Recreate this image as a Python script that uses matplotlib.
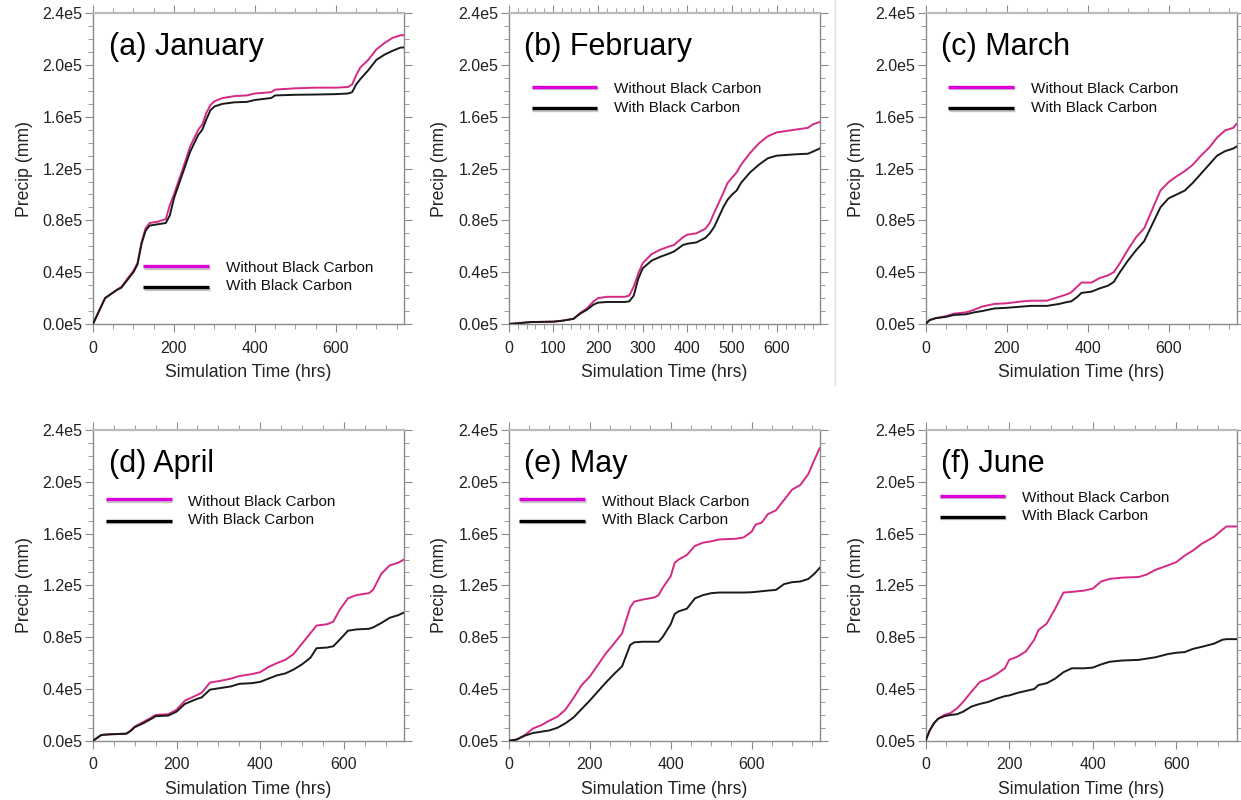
import matplotlib
matplotlib.use("Agg")
import matplotlib.pyplot as plt
import matplotlib.patheffects as pe
from matplotlib.ticker import MultipleLocator, FixedLocator, FixedFormatter

plt.rcParams['font.family'] = ['Liberation Sans', 'DejaVu Sans']

# Cumulative precip in units of 1e5 mm
jan_hrs = [0, 30, 60, 70, 90, 100, 110, 120, 130, 140, 160, 180, 190, 200, 220, 240, 260, 270, 280, 290,
           300, 320, 350, 380, 400, 440, 450, 500, 550, 600, 630, 640, 650, 660, 680, 700, 720, 740, 760, 768]
jan_without = [0, 0.20, 0.265, 0.286, 0.37, 0.41, 0.47, 0.63, 0.74, 0.78, 0.79, 0.81, 0.92, 1.0, 1.18, 1.37, 1.50, 1.54, 1.63, 1.69,
               1.72, 1.745, 1.76, 1.765, 1.78, 1.79, 1.81, 1.82, 1.825, 1.825, 1.83, 1.85, 1.92, 1.98, 2.04, 2.12, 2.17, 2.21, 2.23, 2.23]
jan_with = [0, 0.20, 0.265, 0.28, 0.36, 0.40, 0.46, 0.62, 0.72, 0.76, 0.77, 0.78, 0.84, 0.97, 1.15, 1.33, 1.46, 1.50, 1.58, 1.65,
            1.68, 1.70, 1.712, 1.715, 1.73, 1.745, 1.765, 1.77, 1.772, 1.775, 1.78, 1.79, 1.85, 1.89, 1.96, 2.04, 2.08, 2.11, 2.135, 2.135]

feb_hrs = [0, 50, 100, 120, 145, 160, 175, 190, 200, 220, 260, 270, 280, 290, 300, 320, 340, 360, 370, 380,
           390, 400, 420, 440, 450, 460, 480, 490, 500, 510, 520, 540, 560, 580, 600, 620, 640, 670, 680, 696]
feb_without = [0, 0.015, 0.018, 0.026, 0.04, 0.085, 0.12, 0.175, 0.20, 0.21, 0.21, 0.22, 0.29, 0.39, 0.47, 0.54, 0.575, 0.60, 0.61, 0.64,
               0.67, 0.69, 0.70, 0.735, 0.78, 0.86, 1.01, 1.09, 1.13, 1.17, 1.23, 1.32, 1.395, 1.45, 1.48, 1.49, 1.50, 1.515, 1.54, 1.56]
feb_with = [0, 0.015, 0.018, 0.025, 0.04, 0.08, 0.11, 0.15, 0.165, 0.17, 0.17, 0.175, 0.22, 0.35, 0.43, 0.49, 0.52, 0.545, 0.56, 0.585,
            0.61, 0.62, 0.63, 0.665, 0.70, 0.75, 0.90, 0.96, 1.00, 1.03, 1.09, 1.17, 1.23, 1.28, 1.30, 1.305, 1.31, 1.315, 1.33, 1.355]

mar_hrs = [0, 10, 25, 50, 70, 100, 120, 140, 170, 200, 240, 260, 300, 330, 350, 360, 375, 385, 410, 430,
           450, 465, 480, 500, 520, 540, 560, 580, 600, 620, 640, 660, 680, 700, 720, 740, 760, 768]
mar_without = [0, 0.03, 0.045, 0.06, 0.08, 0.09, 0.11, 0.135, 0.155, 0.16, 0.175, 0.18, 0.18, 0.21, 0.23, 0.245, 0.29, 0.32, 0.32, 0.355,
               0.375, 0.40, 0.47, 0.575, 0.67, 0.74, 0.885, 1.03, 1.095, 1.14, 1.18, 1.23, 1.30, 1.36, 1.44, 1.495, 1.515, 1.545]
mar_with = [0, 0.03, 0.045, 0.055, 0.07, 0.075, 0.09, 0.10, 0.12, 0.125, 0.135, 0.14, 0.14, 0.155, 0.17, 0.175, 0.21, 0.24, 0.25, 0.275,
            0.295, 0.325, 0.40, 0.49, 0.57, 0.64, 0.77, 0.90, 0.97, 1.0, 1.03, 1.09, 1.16, 1.23, 1.30, 1.335, 1.355, 1.37]

apr_hrs = [0, 20, 40, 80, 90, 100, 120, 140, 150, 180, 200, 220, 250, 260, 280, 300, 330, 350, 380, 400,
           420, 440, 460, 480, 500, 520, 535, 560, 575, 590, 610, 630, 660, 670, 690, 710, 730, 744]
apr_without = [0, 0.045, 0.05, 0.055, 0.08, 0.11, 0.145, 0.18, 0.20, 0.205, 0.24, 0.31, 0.355, 0.37, 0.45, 0.46, 0.48, 0.50, 0.515, 0.53,
               0.57, 0.60, 0.625, 0.67, 0.75, 0.83, 0.89, 0.90, 0.92, 1.01, 1.10, 1.125, 1.14, 1.165, 1.29, 1.355, 1.375, 1.40]
apr_with = [0, 0.045, 0.05, 0.055, 0.075, 0.105, 0.135, 0.17, 0.19, 0.195, 0.225, 0.285, 0.325, 0.335, 0.395, 0.405, 0.42, 0.44, 0.445, 0.455,
            0.48, 0.505, 0.52, 0.55, 0.59, 0.64, 0.715, 0.72, 0.73, 0.78, 0.85, 0.86, 0.865, 0.875, 0.91, 0.95, 0.97, 0.99]

may_hrs = [0, 20, 40, 60, 80, 100, 120, 140, 160, 180, 200, 220, 240, 260, 280, 300, 310, 330, 360, 370, 380, 400,
           410, 420, 440, 460, 480, 500, 520, 560, 580, 600, 610, 625, 640, 660, 680, 700, 720, 740, 755, 768]
may_without = [0, 0.01, 0.045, 0.095, 0.12, 0.155, 0.185, 0.24, 0.33, 0.43, 0.495, 0.585, 0.675, 0.75, 0.83, 1.03, 1.075, 1.09, 1.107, 1.125, 1.18, 1.27,
               1.375, 1.40, 1.435, 1.505, 1.53, 1.54, 1.555, 1.56, 1.57, 1.615, 1.67, 1.685, 1.75, 1.78, 1.86, 1.94, 1.975, 2.06, 2.17, 2.26]
may_with = [0, 0.01, 0.04, 0.06, 0.07, 0.08, 0.10, 0.135, 0.18, 0.245, 0.31, 0.38, 0.45, 0.515, 0.575, 0.74, 0.76, 0.765, 0.765, 0.765, 0.80, 0.90,
            0.98, 1.00, 1.02, 1.10, 1.125, 1.14, 1.145, 1.145, 1.145, 1.147, 1.15, 1.155, 1.16, 1.165, 1.21, 1.225, 1.23, 1.25, 1.29, 1.335]

jun_hrs = [0, 10, 20, 30, 45, 60, 75, 90, 110, 130, 150, 170, 190, 200, 220, 240, 260, 270, 290, 310, 330, 350,
           380, 400, 420, 440, 470, 510, 530, 550, 580, 600, 620, 640, 660, 690, 710, 720, 744]
jun_without = [0, 0.08, 0.135, 0.17, 0.20, 0.215, 0.25, 0.30, 0.38, 0.455, 0.48, 0.515, 0.56, 0.625, 0.65, 0.69, 0.78, 0.855, 0.905, 1.02, 1.145, 1.15,
               1.16, 1.175, 1.23, 1.25, 1.26, 1.265, 1.285, 1.32, 1.355, 1.38, 1.43, 1.47, 1.52, 1.575, 1.63, 1.655, 1.655]
jun_with = [0, 0.08, 0.135, 0.17, 0.19, 0.20, 0.205, 0.225, 0.265, 0.285, 0.30, 0.325, 0.345, 0.35, 0.37, 0.385, 0.40, 0.43, 0.445, 0.48, 0.53, 0.56,
            0.56, 0.565, 0.59, 0.61, 0.62, 0.625, 0.635, 0.645, 0.67, 0.68, 0.685, 0.71, 0.725, 0.75, 0.78, 0.785, 0.785]

titles = ["(a) January", "(b) February", "(c) March", "(d) April", "(e) May", "(f) June"]
hrs = [jan_hrs, feb_hrs, mar_hrs, apr_hrs, may_hrs, jun_hrs]
without_bc = [jan_without, feb_without, mar_without, apr_without, may_without, jun_without]
with_bc = [jan_with, feb_with, mar_with, apr_with, may_with, jun_with]
xmax = [768, 696, 768, 744, 768, 744]

ytick_vals = [0, 0.4, 0.8, 1.2, 1.6, 2.0, 2.4]
ytick_labels = ["0.0e5", "0.4e5", "0.8e5", "1.2e5", "1.6e5", "2.0e5", "2.4e5"]

# panel layout (figure fractions) and legend placement (axes fractions)
lefts = [0.0749, 0.4099, 0.7458]
bottoms = [0.595, 0.074]
W, H = 0.2506, 0.3885
leg_pos = [  # x0, x1, xtext, y_top, y_bottom
    (0.161, 0.373, 0.428, 0.187, 0.119),
    (0.074, 0.285, 0.340, 0.764, 0.694),
    (0.073, 0.285, 0.338, 0.764, 0.694),
    (0.041, 0.253, 0.305, 0.777, 0.708),
    (0.034, 0.245, 0.299, 0.777, 0.708),
    (0.045, 0.257, 0.311, 0.789, 0.721),
]

PINK = "#d42a85"
MAGENTA = "#dd00dd"
SPINE = "#8c8c8c"

fig = plt.figure(figsize=(12.41, 8.0), dpi=100)

for i in range(6):
    ax = fig.add_axes([lefts[i % 3], bottoms[i // 3], W, H])
    ax.plot(hrs[i], without_bc[i], color=PINK, lw=1.4, zorder=3)
    ax.plot(hrs[i], with_bc[i], color="#1a1a1a", lw=1.4, zorder=3)
    ax.set_xlim(0, xmax[i])
    ax.set_ylim(0, 2.4)

    ax.yaxis.set_major_locator(FixedLocator(ytick_vals))
    ax.yaxis.set_major_formatter(FixedFormatter(ytick_labels))
    ax.yaxis.set_minor_locator(MultipleLocator(0.1))
    if xmax[i] < 700:
        ax.xaxis.set_major_locator(MultipleLocator(100))
        ax.xaxis.set_minor_locator(MultipleLocator(20))
    else:
        ax.xaxis.set_major_locator(MultipleLocator(200))
        ax.xaxis.set_minor_locator(MultipleLocator(50))

    ax.tick_params(which="both", direction="out", top=True, right=True, color=SPINE,
                   labelsize=11.5, labelcolor="#222222")
    ax.tick_params(axis="y", which="major", length=6, pad=1.5)
    ax.tick_params(axis="x", which="major", length=6, pad=6)
    ax.tick_params(which="minor", length=3.5)
    for s in ax.spines.values():
        s.set_color(SPINE)
        s.set_linewidth(1.0)
    ax.spines["top"].set_color("#bbbbbb")
    ax.spines["top"].set_linewidth(1.6)

    ax.set_xlabel("Simulation Time (hrs)", fontsize=12.7, color="#222222", labelpad=6)
    ax.set_ylabel("Precip (mm)", fontsize=12.7, color="#222222", labelpad=7)

    ax.text(0.05, 0.89, titles[i], transform=ax.transAxes, fontsize=22,
            ha="left", va="center", color="black")

    x0, x1, xt, y1, y2 = leg_pos[i]
    shadow = [pe.SimpleLineShadow(offset=(0.5, -1.2), shadow_color="gray", alpha=0.45), pe.Normal()]
    ax.plot([x0, x1], [y1, y1], transform=ax.transAxes, color=MAGENTA, lw=2.4,
            solid_capstyle="butt", path_effects=shadow, zorder=4)
    ax.plot([x0, x1], [y2, y2], transform=ax.transAxes, color="black", lw=2.4,
            solid_capstyle="butt", path_effects=shadow, zorder=4)
    ax.text(xt, y1 - 0.008, "Without Black Carbon", transform=ax.transAxes,
            fontsize=11, va="center", ha="left", color="#111111")
    ax.text(xt, y2 + 0.002, "With Black Carbon", transform=ax.transAxes,
            fontsize=11, va="center", ha="left", color="#111111")

# faint separator line from the original composite
fig.add_artist(plt.Line2D([835 / 1241, 835 / 1241], [1.0, 1 - 385 / 800],
                          transform=fig.transFigure, color="#dddddd", lw=1))

fig.savefig("out.png", dpi=100, facecolor="white")
